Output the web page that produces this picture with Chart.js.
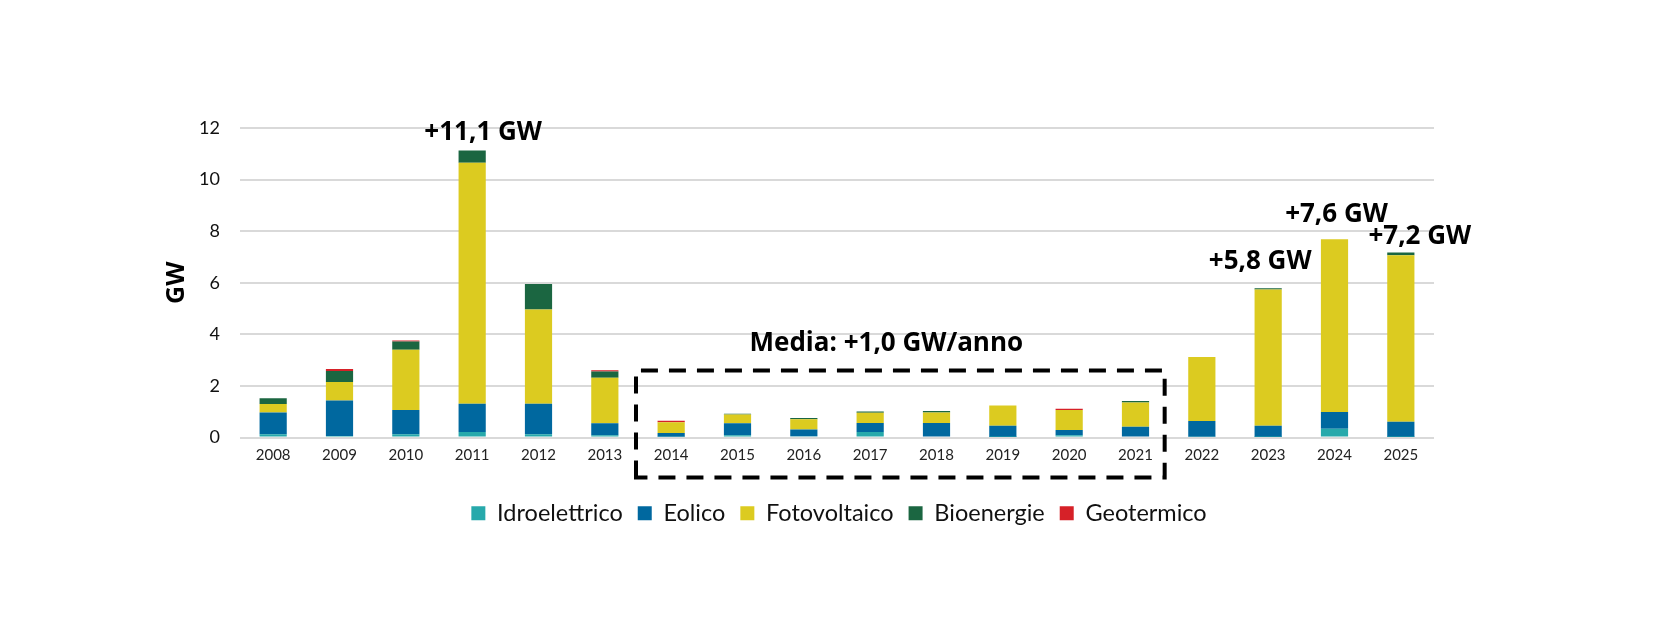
<!DOCTYPE html>
<html>
<head>
<meta charset="utf-8">
<script src="https://cdn.jsdelivr.net/npm/chart.js@4.4.1/dist/chart.umd.min.js"></script>
<style>
html,body{margin:0;padding:0;background:#fff;}
#wrap{width:1678px;height:642px;position:relative;}
canvas{display:block;}
</style>
</head>
<body>
<div id="wrap"><canvas id="c" width="1678" height="642"></canvas></div>
<script>
// ---- data ----
const years = ['2008','2009','2010','2011','2012','2013','2014','2015','2016','2017','2018','2019','2020','2021','2022','2023','2024','2025'];
const idroelettrico = [0.13,0.06,0.13,0.21,0.13,0.09,0.03,0.09,0.05,0.21,0.04,0.02,0.09,0.04,0.03,0.02,0.34,0.02];
const eolico        = [0.84,1.37,0.94,1.10,1.18,0.46,0.14,0.46,0.26,0.35,0.52,0.44,0.20,0.38,0.61,0.44,0.65,0.59];
const fotovoltaico  = [0.33,0.72,2.33,9.34,3.65,1.77,0.42,0.34,0.40,0.40,0.41,0.78,0.78,0.94,2.48,5.28,6.70,6.46];
const bioenergie    = [0.22,0.43,0.32,0.48,0.99,0.24,0.00,0.03,0.05,0.05,0.06,0.00,0.00,0.06,0.00,0.05,0.00,0.10];
const geotermico    = [0.00,0.08,0.04,0.00,0.00,0.05,0.06,0.00,0.00,0.00,0.00,0.00,0.04,0.00,0.00,0.00,0.00,0.00];
const yTicks = [0,2,4,6,8,10,12];
const seriesNames = ['Idroelettrico','Eolico','Fotovoltaico','Bioenergie','Geotermico'];
const totalLabelYears = ['2011','2023','2024','2025'];
const totalLabelTexts = ['+11,1 GW','+5,8 GW','+7,6 GW','+7,2 GW'];
const averageText = 'Media: +1,0 GW/anno';
const averageFrom = '2014';
const averageTo = '2021';

// ---- styles ----
const colors = ['#27A9AB','#00689F','#DCCB20','#1B6641','#D62128'];
const labelOffsets = [{dx:11,dy:18},{dx:-8,dy:27},{dx:2,dy:25},{dx:19,dy:16}];
const boxTopValue = 2.6;

function draw(){
  const seriesData = [idroelettrico, eolico, fotovoltaico, bioenergie, geotermico];
  const datasets = seriesNames.map((n,i)=>({
    label:n, data:seriesData[i], backgroundColor:colors[i], borderWidth:0,
    categoryPercentage:1.0, barPercentage:0.41
  }));

  const annotPlugin = {
    id:'annot',
    afterDatasetsDraw(chart){
      const {ctx} = chart;
      const xs = chart.scales.x, ys = chart.scales.y;
      ctx.save();
      ctx.fillStyle = '#000';
      ctx.font = 'bold 26px "Open Sans"';
      ctx.textAlign = 'center';
      ctx.textBaseline = 'middle';
      totalLabelYears.forEach((yr,k)=>{
        const i = years.indexOf(yr);
        let sum = 0; seriesData.forEach(s=>sum+=s[i]);
        const px = xs.getPixelForValue(i) + labelOffsets[k].dx;
        const py = ys.getPixelForValue(sum) - labelOffsets[k].dy;
        ctx.fillText(totalLabelTexts[k], px, py);
      });
      // dashed box
      const i1 = years.indexOf(averageFrom), i2 = years.indexOf(averageTo);
      const half = (xs.getPixelForValue(1)-xs.getPixelForValue(0))/2;
      const left = xs.getPixelForValue(i1) - half - 2;
      const right = xs.getPixelForValue(i2) + half - 4;
      const top = ys.getPixelForValue(boxTopValue);
      const bottom = chart.chartArea.bottom + 40;
      ctx.strokeStyle = '#000';
      ctx.lineWidth = 4;
      ctx.setLineDash([17,11]);
      ctx.beginPath();
      ctx.moveTo(left, bottom);
      ctx.lineTo(left, top);
      ctx.lineTo(right, top);
      ctx.lineTo(right, bottom);
      ctx.closePath();
      ctx.stroke();
      ctx.setLineDash([]);
      ctx.fillText(averageText, (left+right)/2 - 14, top - 27);
      ctx.restore();
    }
  };

  new Chart(document.getElementById('c'), {
    type:'bar',
    data:{labels:years, datasets},
    plugins:[annotPlugin],
    options:{
      responsive:false,
      devicePixelRatio:1,
      animation:false,
      layout:{padding:{top:128,left:0,right:0,bottom:107}},
      plugins:{
        legend:{
          position:'bottom',
          labels:{
            boxWidth:14, boxHeight:14, padding:15,
            color:'#111',
            font:{family:'Lato', size:23.5}
          }
        },
        tooltip:{enabled:false}
      },
      scales:{
        x:{
          stacked:true,
          grid:{display:false, drawTicks:false},
          border:{display:false},
          ticks:{color:'#222', padding:9, font:{family:'Lato', size:15}, maxRotation:0},
          afterFit(s){ s.height = 49; }
        },
        y:{
          stacked:true,
          min:0, max:12,
          afterBuildTicks(s){ s.ticks = yTicks.map(v=>({value:v})); },
          grid:{color:'#d9d9d9', lineWidth:2, drawTicks:false},
          border:{display:false},
          ticks:{color:'#111', padding:20, font:{family:'Lato', size:18}},
          title:{display:true, text:'GW', color:'#000', font:{family:'Open Sans', size:25, weight:'bold'}, padding:{top:162,bottom:0}},
          afterFit(s){ s.width = 240; }
        },
        y2:{
          type:'linear',
          position:'right',
          display:true,
          grid:{display:false, drawOnChartArea:false},
          border:{display:false},
          ticks:{display:false},
          afterFit(s){ s.width = 244; }
        }
      }
    }
  });
}

Promise.all([
  document.fonts.load('24px Lato'),
  document.fonts.load('bold 26px "Open Sans"')
]).then(draw, draw);
</script>
</body>
</html>
